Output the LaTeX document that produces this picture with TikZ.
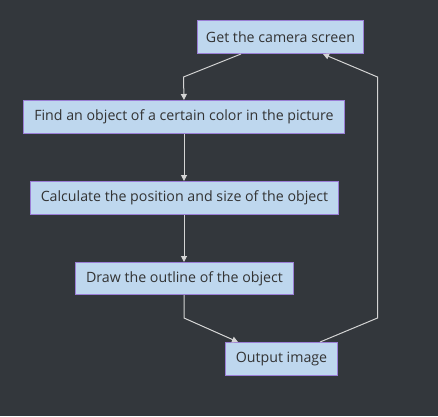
\documentclass[tikz,border=0pt]{standalone}
\usepackage{fontspec}
\setmainfont{Open Sans}
\usetikzlibrary{arrows.meta}
\definecolor{bg}{HTML}{33373C}
\definecolor{boxfill}{HTML}{BED7EE}
\definecolor{boxline}{HTML}{9A7ED6}
\definecolor{txt}{HTML}{333333}
\definecolor{edge}{HTML}{D4D4D4}
\tikzset{
  stepbox/.style={draw=boxline, line width=1pt, fill=boxfill, text=txt,
    font=\fontsize{14.2}{16}\selectfont, inner sep=0pt, anchor=north west},
  link/.style={draw=edge, line width=1pt, -{Triangle[length=6pt,width=6pt]}}
}
\begin{document}
\begin{tikzpicture}[x=1pt,y=-1pt]
\fill[bg] (0,0) rectangle (438,416);
\useasboundingbox (0,0) rectangle (438,416);
\node[stepbox, minimum width=166pt, minimum height=33pt] (a) at (197,20) {Get the camera screen};
\node[stepbox, minimum width=321pt, minimum height=33pt] (b) at (23,100) {Find an object of a certain color in the picture};
\node[stepbox, minimum width=308pt, minimum height=33pt] (c) at (30,181) {Calculate the position and size of the object};
\node[stepbox, minimum width=218pt, minimum height=32pt] (d) at (75,262) {Draw the outline of the object};
\node[stepbox, minimum width=112pt, minimum height=33pt] (e) at (225,342) {Output image};
\coordinate (p1) at (183.5,77);
\coordinate (p2) at (184,318);
\coordinate (p3) at (377.5,318);
\coordinate (p4) at (377.5,77);
\draw[link] (a.south -| 241,0) -- (p1) -- (b.north);
\draw[link] (b.south) -- (c.north -| b.south);
\draw[link] (c.south -| b.south) -- (d.north -| b.south);
\draw[link] (d.south -| p2) -- (p2) -- (e.north -| 238,0);
\draw[link] (e.north -| 320,0) -- (p3) -- (p4) -- (a.south -| 323,0);
\end{tikzpicture}
\end{document}
